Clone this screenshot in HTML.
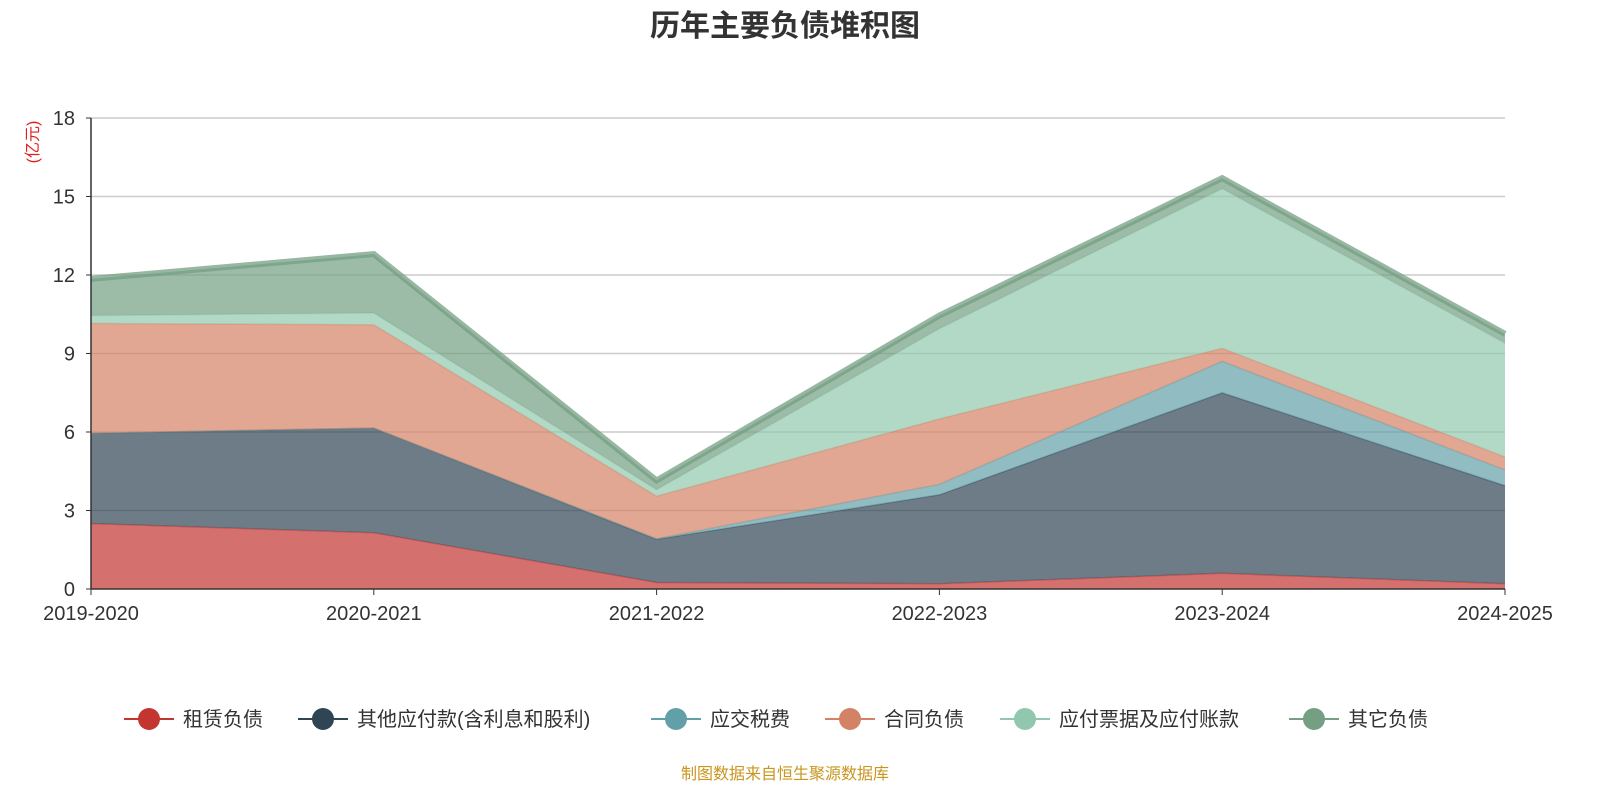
<!DOCTYPE html>
<html><head><meta charset="utf-8">
<style>
body{margin:0;background:#fff;font-family:"Liberation Sans","Noto Sans CJK SC",sans-serif;}
#c{width:1600px;height:800px;position:relative;}
</style></head><body>
<div id="c">
<svg id="s" width="1600" height="800" xmlns="http://www.w3.org/2000/svg">
<text x="785" y="36" text-anchor="middle" font-size="30" font-weight="bold" fill="#333" font-family="Liberation Sans, Noto Sans CJK SC, sans-serif">历年主要负债堆积图</text>
<text transform="translate(38,142) rotate(-90)" text-anchor="middle" font-size="16" fill="#e02020" font-family="Liberation Sans, Noto Sans CJK SC, sans-serif">(亿元)</text>
<g id="grid"></g><g id="areas"></g><g id="axes"></g><g id="legend"></g>
<text x="785" y="779" text-anchor="middle" font-size="16" fill="#c8961e" font-family="Liberation Sans, Noto Sans CJK SC, sans-serif">制图数据来自恒生聚源数据库</text>
</svg>
</div>
<script>
const categories=["2019-2020","2020-2021","2021-2022","2022-2023","2023-2024","2024-2025"];
const seriesNames=["租赁负债","其他应付款(含利息和股利)","应交税费","合同负债","应付票据及应付账款","其它负债"];
const leaseValues=[2.5,2.15,0.25,0.2,0.6,0.2];
const otherPayValues=[3.45,4.0,1.65,3.4,6.9,3.75];
const taxValues=[0.0,0.0,0.02,0.4,1.2,0.6];
const contractValues=[4.2,3.95,1.63,2.5,0.5,0.5];
const billsValues=[0.3,0.45,0.25,3.45,6.1,4.35];
const otherLiabValues=[1.4,2.25,0.35,0.5,0.4,0.35];
const yTicks=[0,3,6,9,12,15,18];
const series=[leaseValues,otherPayValues,taxValues,contractValues,billsValues,otherLiabValues];
const colors=["#c23531","#2f4554","#61a0a8","#d48265","#91c7ae","#749f83"];
const NS="http://www.w3.org/2000/svg";
const x0=91,x1=1505,y0=589,y1=118,ymax=18;
const xs=i=>x0+(x1-x0)*i/(categories.length-1);
const ys=v=>y0-(y0-y1)*v/ymax;
function mk(t,a,p){const e=document.createElementNS(NS,t);for(const k in a)e.setAttribute(k,a[k]);p.appendChild(e);return e;}
const grid=document.getElementById('grid'),areas=document.getElementById('areas'),axes=document.getElementById('axes'),legend=document.getElementById('legend');
yTicks.forEach(v=>{
 if(v>0){const l=mk('line',{x1:x0,x2:x1,y1:ys(v),y2:ys(v),stroke:'#ccc','stroke-width':1.5},grid);
 
 }
 const t=mk('text',{x:x0-16,y:ys(v)+7,'text-anchor':'end','font-size':20,fill:'#333'},axes);t.textContent=v;
 
 
 mk('line',{x1:x0-5,x2:x0,y1:ys(v),y2:ys(v),stroke:'#333'},axes);
});
let base=categories.map(()=>0);
series.forEach((vals,si)=>{
 const top=base.map((b,i)=>b+vals[i]);
 let d='M'+top.map((v,i)=>xs(i)+','+ys(v)).join('L');
 for(let i=categories.length-1;i>=0;i--)d+='L'+xs(i)+','+ys(base[i]);
 d+='Z';
 const a=mk('path',{d:d,fill:colors[si],'fill-opacity':0.7},areas);
 
 
 const ln=mk('path',{d:'M'+top.map((v,i)=>xs(i)+','+ys(v)).join('L'),fill:'none',stroke:colors[si],'stroke-opacity':si==5?0.75:0.5,'stroke-width':si==5?6:1.5},areas);
 
 
 base=top;
});
mk('line',{x1:x0,x2:x0,y1:y1,y2:y0,stroke:'#333','stroke-width':1.5},axes);
mk('line',{x1:x0,x2:x1,y1:y0,y2:y0,stroke:'#333','stroke-width':1.5},axes);
categories.forEach((c,i)=>{
 mk('line',{x1:xs(i),x2:xs(i),y1:y0,y2:y0+6,stroke:'#333'},axes);
 const t=mk('text',{x:xs(i),y:y0+31,'text-anchor':'middle','font-size':20,fill:'#333'},axes);t.textContent=c;
 
 
});
const legX=[124,298,651,825,1000,1289];
seriesNames.forEach((n,i)=>{
 const g=mk('g',{},legend);
 
 
 mk('line',{x1:legX[i],x2:legX[i]+50,y1:719,y2:719,stroke:colors[i],'stroke-width':2},g);
 mk('circle',{cx:legX[i]+25,cy:719,r:11,fill:colors[i]},g);
 const t=mk('text',{x:legX[i]+59,y:726,'font-size':20,fill:'#333'},g);t.textContent=n;
});
</script>
</body></html>
